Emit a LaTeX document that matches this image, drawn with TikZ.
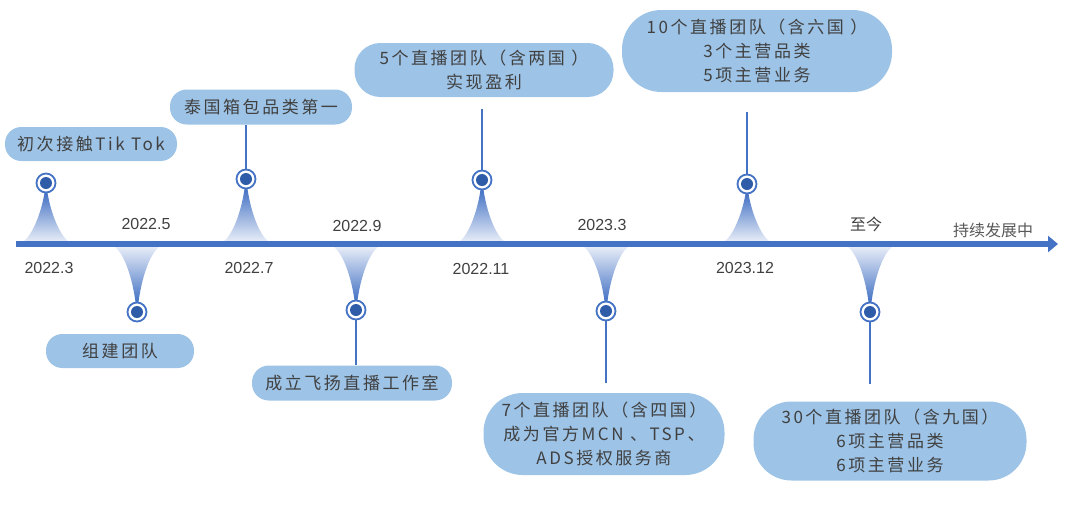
\documentclass[tikz,border=0pt]{standalone}
\usepackage{fontspec}
\setmainfont{Liberation Sans}
\newfontfamily\cjk[LetterSpace=15]{Noto Sans CJK SC}
\newfontfamily\cjkplain{Noto Sans CJK SC}
\usetikzlibrary{arrows.meta, positioning}
\definecolor{cblue}{HTML}{4472C4}
\definecolor{cdot}{HTML}{2F5CA8}
\definecolor{cpale}{HTML}{E6ECF7}
\definecolor{cbox}{HTML}{9DC3E6}
\definecolor{ctext}{HTML}{404040}
\definecolor{cgrey}{HTML}{595959}
\tikzset{
  every picture/.style={x=1pt, y=-1pt},
  pill/.style={fill=cbox, align=center, inner sep=0pt, text=ctext, font=\cjk\fontsize{17}{24}\selectfont},
  marker/.style={circle, draw=cblue, line width=1.8pt, fill=white, minimum size=19pt, inner sep=0pt,
    path picture={\fill[cdot] (path picture bounding box.center) circle (6pt);}},
  datelabel/.style={font=\fontsize{16}{18}\selectfont, text=ctext},
  link/.style={draw=cblue, line width=1.5pt},
  axisline/.style={draw=cblue, line width=6pt, -{Triangle[length=10pt, width=16pt]}},
}

\begin{document}
\begin{tikzpicture}
  \useasboundingbox (0,0) rectangle (1080,504);
  % boxes
  \foreach \n/\X/\Y/\w/\h/\t in {
     b1/91/144/172/34/{初次接触Tik Tok},
     b2/261/107/182/35/{泰国箱包品类第一},
     b3/484/70/259/54/{5个直播团队（含两国 ）\\实现盈利},
     b4/757/51/270/82/{10个直播团队（含六国 ）\\3个主营品类\\5项主营业务},
     b5/120/351/148/34/{组建团队},
     b6/352/383/200/35/{成立飞扬直播工作室},
     b7/604/434/241/82/{7个直播团队（含四国）\\成为官方MCN 、TSP、\\ADS授权服务商},
     b8/890/441/273/79/{30个直播团队（含九国）\\6项主营品类\\6项主营业务}} {
    \node[pill, minimum width=\w pt, minimum height=\h pt, rounded corners=\h*0.48pt] (\n) at (\X,\Y) {\t};
  }
  % spikes, markers and dates
  \foreach \X/\Y/\s/\tc/\bc/\dx/\dy/\d [count=\i,
      evaluate=\s as \b using 244-3*\s,
      evaluate=\Y as \tp using \Y+10*\s,
      evaluate=\s as \ca using 244-7*\s,
      evaluate=\s as \cb using 244-25*\s] in {
     46/183/1/cblue/cpale/49/268/{2022.3},
     137/312/-1/cpale/cblue/146/224/{2022.5},
     246/179/1/cblue/cpale/249/268/{2022.7},
     356/310/-1/cpale/cblue/357/226/{2022.9},
     482/180/1/cblue/cpale/481/269/{2022.11},
     606/311/-1/cpale/cblue/602/225/{2023.3},
     747/184/1/cblue/cpale/745/268/{2023.12},
     870/312/-1/cpale/cblue/866/224/{\cjkplain 至今}} {
    \shade[top color=\tc, bottom color=\bc]
      (\X-22,\b) .. controls (\X-16,\ca) and (\X-6,\cb) .. (\X-1.5,\tp)
      -- (\X+1.5,\tp) .. controls (\X+6,\cb) and (\X+16,\ca) .. (\X+22,\b) -- cycle;
    \node[marker] (m\i) at (\X,\Y) {};
    \node[datelabel] (d\i) at (\dx,\dy) {\d};
  }
  % axis
  \coordinate (axisL) at (16,244);
  \coordinate (axisR) at (1058,244);
  \draw[axisline] (axisL) -- (axisR);
  \node[font=\cjkplain\fontsize{16}{18}\selectfont, text=cgrey] (goal) at (993,230) {持续发展中};
  % connectors
  \foreach \a/\bx/\g in {m3/b2.south/0, m5/b3.south/12, m7/b4.south/20, m4/b6.north/0, m6/b7.north/10, m8/b8.north/17} {
    \draw[link, shorten >=\g pt] (\a) -- (\a |- \bx);
  }
\end{tikzpicture}
\end{document}
